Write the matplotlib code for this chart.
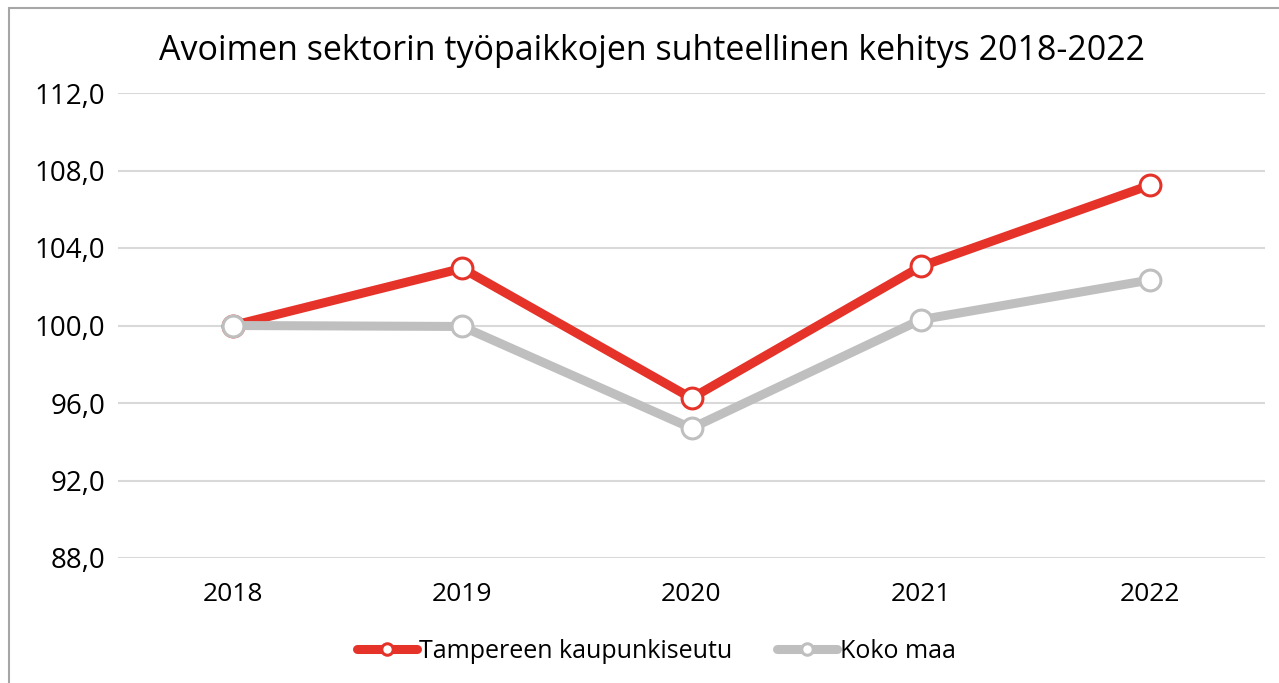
import matplotlib
matplotlib.use("Agg")
from matplotlib import pyplot as plt
from matplotlib.patches import Rectangle

plt.rcParams['font.family'] = ['Open Sans', 'DejaVu Sans']

years = ["2018", "2019", "2020", "2021", "2022"]
tampere = [100.0, 102.95, 96.25, 103.05, 107.25]
koko_maa = [100.0, 99.95, 94.7, 100.3, 102.35]
y_ticks = [88, 92, 96, 100, 104, 108, 112]

red = "#e5332a"
grey = "#bfbfbf"

fig = plt.figure(figsize=(12.79, 6.83), dpi=100)
ax = fig.add_axes([118 / 1279, 1 - 558 / 683, (1265 - 118) / 1279, (558 - 93) / 683])

x = range(len(years))
ax.plot(x, tampere, color=red, lw=6.5, marker="o", ms=15, mfc="white",
        mec=red, mew=2.2, label="Tampereen kaupunkiseutu", solid_capstyle="round", zorder=3)
ax.plot(x, koko_maa, color=grey, lw=6.5, marker="o", ms=15, mfc="white",
        mec=grey, mew=2.2, label="Koko maa", solid_capstyle="round", zorder=4)

ax.set_xlim(-0.5, len(years) - 0.5)
ax.set_ylim(88, 112)
ax.set_yticks(y_ticks)
ax.set_yticklabels([f"{v:.1f}".replace(".", ",") for v in y_ticks])
ax.set_xticks(list(x))
ax.set_xticklabels(years)
ax.tick_params(length=0)
ax.tick_params(axis="y", labelsize=20, pad=9)
ax.tick_params(axis="x", labelsize=19, pad=17)
ax.grid(axis="y", color="#d9d9d9", lw=1.5)
ax.set_axisbelow(True)
for s in ax.spines.values():
    s.set_visible(False)

fig.text(0.51, 1 - 51 / 683, "Avoimen sektorin työpaikkojen suhteellinen kehitys 2018-2022",
         ha="center", va="center", fontsize=24.5)

leg = fig.legend(loc="center", bbox_to_anchor=(0.513, 1 - 651 / 683), ncol=2, frameon=False,
                 fontsize=18, handlelength=2.4, handletextpad=0.1, columnspacing=1.8,
                 markerscale=0.55)

fig.patches.append(Rectangle((9 / 1279, -0.05), 1.1, 1 - 8 / 683 + 0.05, transform=fig.transFigure,
                             fill=False, edgecolor="#a6a6a6", lw=1.5))

fig.savefig("out.png", dpi=100)
